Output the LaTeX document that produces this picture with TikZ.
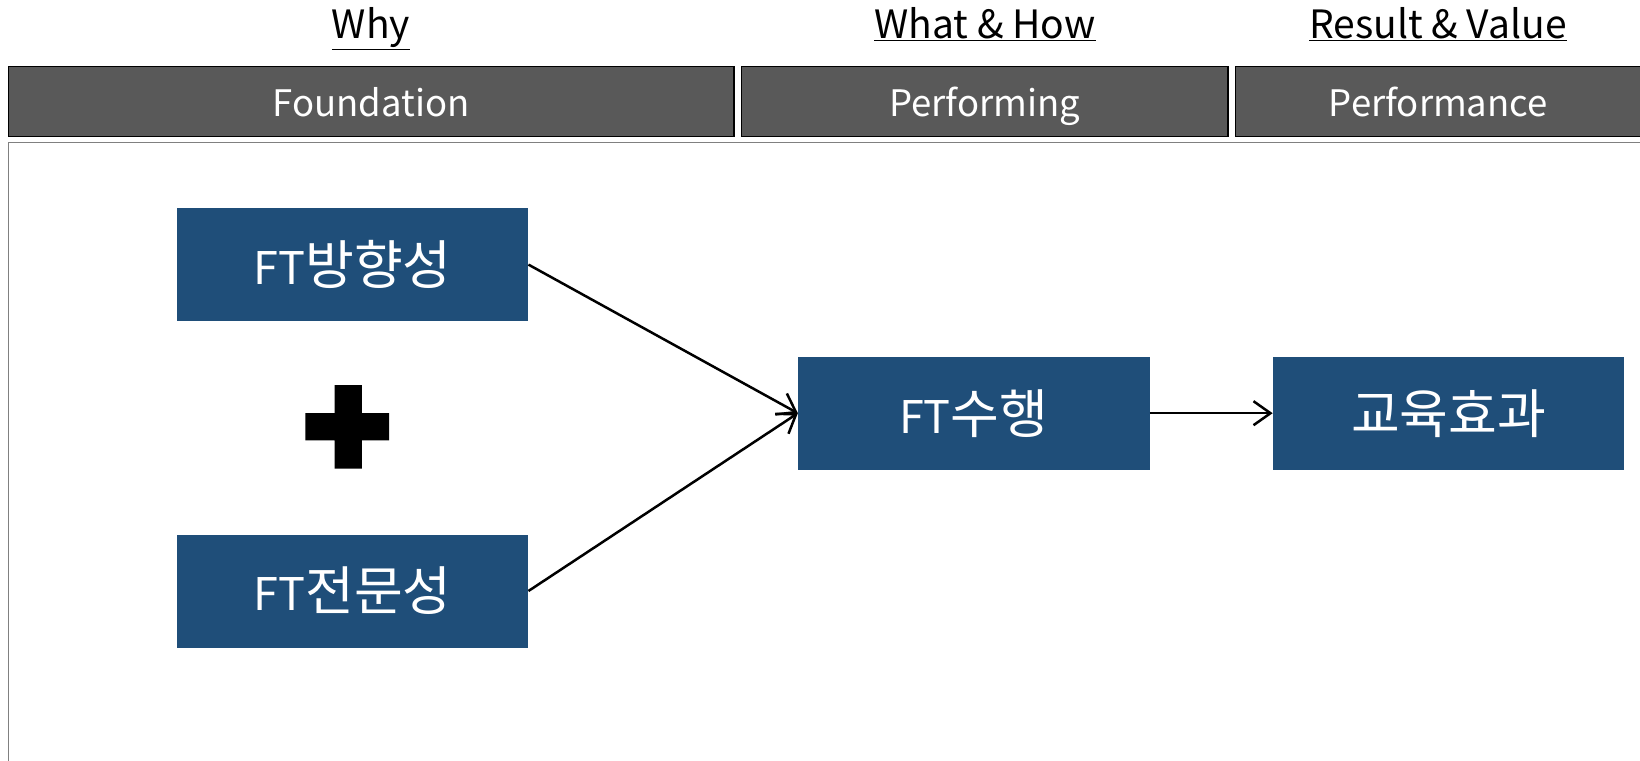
\documentclass[tikz,border=0pt]{standalone}
\usepackage{fontspec}
\setmainfont{Noto Sans CJK KR}
\usetikzlibrary{arrows.meta}
\definecolor{hdrgray}{HTML}{595959}
\definecolor{boxblue}{HTML}{1F4E79}
\definecolor{framegray}{HTML}{808080}
\newcommand\latpart[1]{{\fontsize{45}{54}\selectfont #1}}
\tikzset{
  x=1pt, y=-1pt,
  toplabel/.style={text=black, font=\fontsize{39}{46}\selectfont, inner sep=0pt, anchor=base},
  hdrbox/.style={draw=black, line width=1.5pt, fill=hdrgray, text=white, font=\fontsize{36.5}{44}\selectfont, inner sep=0pt, text height=30pt, text depth=0pt},
  bluebox/.style={fill=boxblue, text=white, font=\fontsize{53}{62}\selectfont, minimum width=351.5pt, minimum height=113pt, inner sep=0pt},
  conn/.style={draw=black, line width=2.5pt, -{Straight Barb[length=17pt,width=24pt,line width=2.5pt]}}
}
\begin{document}
\begin{tikzpicture}
\useasboundingbox (0,0) rectangle (1640,760);
\clip (0,0) rectangle (1640,760);
\fill[white] (0,0) rectangle (1640,760);
% top labels
\node[toplabel] (why) at (371,38.5) {\underline{Why}};
\node[toplabel] (whathow) at (985,38.5) {\underline{What \& How}};
\node[toplabel] (result) at (1438,38.5) {\underline{Result \& Value}};
% header boxes
\node[hdrbox, minimum width=725.8pt, minimum height=70pt] (foundation) at (371.3,101.5) {Foundation};
\node[hdrbox, minimum width=486.4pt, minimum height=70pt] (performing) at (984.7,101.5) {Performing};
\node[hdrbox, minimum width=406pt, minimum height=70pt] (performance) at (1438.3,101.5) {Performance};
% frame
\draw[framegray, line width=1.5pt] (8.4,770) -- (8.4,142.5) -- (1660,142.5);
% blue boxes
\node[bluebox] (dir) at (352.5,264.6) {\latpart{FT}방향성};
\node[bluebox] (exp) at (352.5,591) {\latpart{FT}전문성};
\node[bluebox] (perf) at (973.8,413.2) {\latpart{FT}수행};
\node[bluebox] (edu) at (1448.6,413.2) {교육효과};
% plus sign
\fill[black] (334.7,385) -- (361.9,385) -- (361.9,413) -- (389,413) -- (389,440.3)
  -- (361.9,440.3) -- (361.9,468.6) -- (334.7,468.6) -- (334.7,440.3) -- (305.4,440.3)
  -- (305.4,413) -- (334.7,413) -- cycle;
% connectors
\draw[conn] (dir.east) -- (perf.west);
\draw[conn] (exp.east) -- (perf.west);
\draw[conn] (perf.east) -- (edu.west);
\end{tikzpicture}
\end{document}
